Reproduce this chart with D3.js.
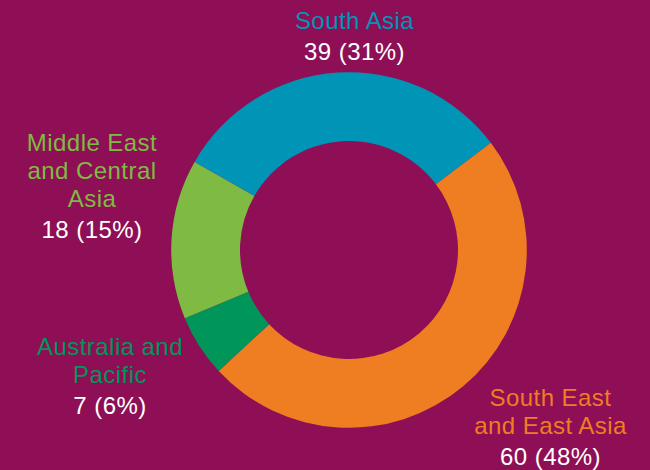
<!DOCTYPE html>
<html><head><meta charset="utf-8">
<script src="https://cdn.jsdelivr.net/npm/d3@7"></script>
<style>html,body{margin:0;padding:0;background:#8E0F55;}svg{display:block;}</style>
</head><body>
<svg id="chart" width="650" height="470"></svg>
<script>
const categories = ["South Asia", "South East and East Asia", "Australia and Pacific", "Middle East and Central Asia"];
const values = [39, 60, 7, 18];
const percents = ["31%", "48%", "6%", "15%"];
const labelLines = [["South Asia"], ["South East", "and East Asia"], ["Australia and", "Pacific"], ["Middle East", "and Central", "Asia"]];
const colors = ["#0095B7", "#EF7D22", "#00965A", "#7FBA42"];
// label anchor positions (center x, baseline y of first line)
const labelPos = [[354.5, 29], [550.5, 406], [110, 355], [92, 151]];

const svg = d3.select("#chart");
svg.append("rect").attr("width", 650).attr("height", 470).attr("fill", "#8E0F55");
const cx = 349, cy = 250, R = 177.8, r = 109;
const startA = -60.3 * Math.PI / 180;
const pie = d3.pie().sort(null).value(d => d).startAngle(startA).endAngle(startA + 2 * Math.PI);
const arc = d3.arc().innerRadius(r).outerRadius(R);
const g = svg.append("g").attr("transform", `translate(${cx},${cy})`);
g.selectAll("path").data(pie(values)).join("path")
  .attr("d", arc).attr("fill", (d, i) => colors[i]);

const lh = 28;
categories.forEach((c, i) => {
  const [x, y] = labelPos[i];
  const t = svg.append("text").attr("text-anchor", "middle")
    .attr("font-family", "'Liberation Sans', Arial, sans-serif").attr("font-size", 24)
    .attr("letter-spacing", 0.45);
  labelLines[i].forEach((ln, j) => {
    t.append("tspan").attr("x", x).attr("y", y + j * lh).attr("fill", colors[i]).text(ln);
  });
  t.append("tspan").attr("x", x).attr("y", y + (labelLines[i].length - 1) * lh + 30.5)
    .attr("fill", "#ffffff").text(`${values[i]} (${percents[i]})`);
});
</script>
</body></html>
